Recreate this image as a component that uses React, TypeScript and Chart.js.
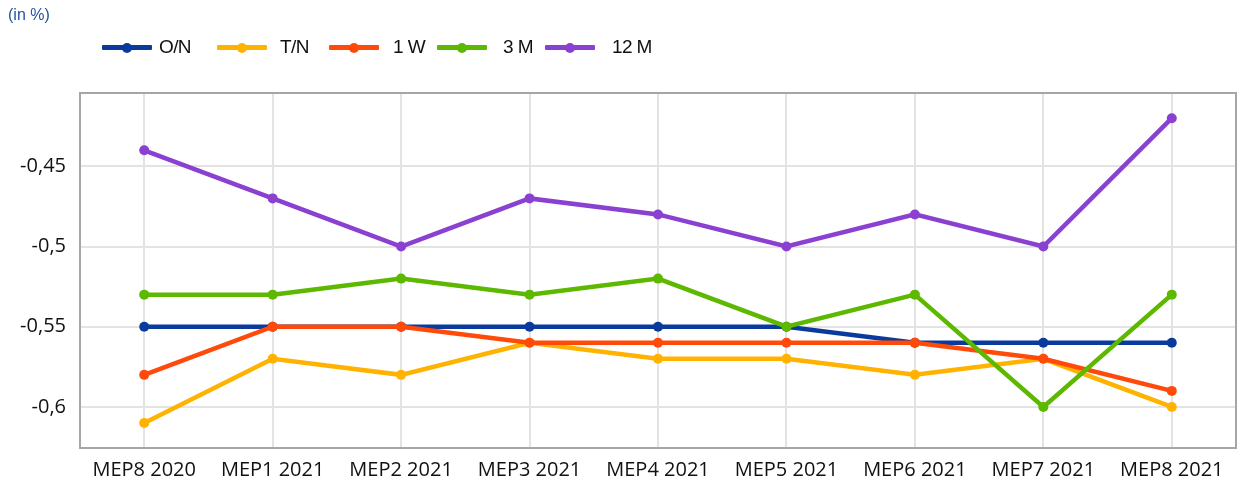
import React, { useEffect, useRef } from "react";
import { Chart, registerables } from "chart.js";

Chart.register(...registerables);

const categories = [
  "MEP8 2020", "MEP1 2021", "MEP2 2021", "MEP3 2021", "MEP4 2021",
  "MEP5 2021", "MEP6 2021", "MEP7 2021", "MEP8 2021",
];
const seriesON = [-0.55, -0.55, -0.55, -0.55, -0.55, -0.55, -0.56, -0.56, -0.56];
const seriesTN = [-0.61, -0.57, -0.58, -0.56, -0.57, -0.57, -0.58, -0.57, -0.6];
const series1W = [-0.58, -0.55, -0.55, -0.56, -0.56, -0.56, -0.56, -0.57, -0.59];
const series3M = [-0.53, -0.53, -0.52, -0.53, -0.52, -0.55, -0.53, -0.6, -0.53];
const series12M = [-0.44, -0.47, -0.5, -0.47, -0.48, -0.5, -0.48, -0.5, -0.42];
const yTicks = [-0.6, -0.55, -0.5, -0.45];
const yTickLabels = ["-0,6", "-0,55", "-0,5", "-0,45"];
const seriesNames = ["O/N", "T/N", "1 W", "3 M", "12 M"];
const seriesColors = ["#0a3a9c", "#ffb300", "#ff4a0a", "#5db800", "#8a40d0"];

const frame = {
  id: "frame",
  afterDraw(chart: any) {
    const { ctx, chartArea } = chart;
    ctx.save();
    ctx.strokeStyle = "#a6a6a6";
    ctx.lineWidth = 2;
    ctx.strokeRect(chartArea.left, chartArea.top, chartArea.right - chartArea.left, chartArea.bottom - chartArea.top);
    ctx.restore();
  },
};

export default function App() {
  const ref = useRef<HTMLCanvasElement>(null);
  useEffect(() => {
    document.body.style.margin = "0";
    const values = [seriesON, seriesTN, series1W, series3M, series12M];
    const chart = new Chart(ref.current!, {
      type: "line",
      data: {
        labels: categories,
        datasets: values.map((v, i) => ({
          label: seriesNames[i],
          data: v,
          borderColor: seriesColors[i],
          backgroundColor: seriesColors[i],
          borderWidth: 4.5,
          pointRadius: 5,
          pointHoverRadius: 5,
          pointBorderWidth: 0,
          tension: 0,
          order: 5 - i,
        })),
      },
      options: {
        animation: false,
        responsive: false,
        layout: { padding: { left: 0, right: 4, top: 93, bottom: 0 } },
        plugins: { legend: { display: false }, tooltip: { enabled: false } },
        scales: {
          x: {
            offset: true,
            grid: { offset: false, color: "#e3e3e3", lineWidth: 2, drawTicks: false },
            border: { display: false },
            ticks: { color: "#111", font: { family: "Open Sans", size: 20 }, padding: 10, maxRotation: 0 },
            afterFit(s: any) { s.height = 36; },
          },
          y: {
            min: -0.6256,
            max: -0.4043,
            afterBuildTicks(s: any) { s.ticks = yTicks.map((v) => ({ value: v })); },
            grid: { color: "#e3e3e3", lineWidth: 2, drawTicks: false },
            border: { display: false },
            ticks: {
              color: "#111",
              font: { family: "Open Sans", size: 20 },
              padding: 14,
              callback: (v: any) => {
                const idx = yTicks.findIndex((t) => Math.abs(t - v) < 1e-9);
                return idx >= 0 ? yTickLabels[idx] : "";
              },
            },
            afterFit(s: any) { s.width = 80; },
          },
        },
      },
      plugins: [frame],
    });
    return () => chart.destroy();
  }, []);

  const legendLineX = [102, 217, 329, 437, 545];
  const legendTextX = [159, 280, 393, 503, 612];
  return (
    <div style={{ position: "relative", width: 1241, height: 484, background: "#fff" }}>
      <canvas ref={ref} width={1241} height={484} style={{ position: "absolute", left: 0, top: 0 }} />
      <div style={{ position: "absolute", left: 8, top: 6, fontFamily: "Liberation Sans", fontSize: 16, color: "#2452a4" }}>
        (in %)
      </div>
      {seriesNames.map((n, i) => (
        <React.Fragment key={n}>
          <div style={{ position: "absolute", left: legendLineX[i], top: 45, width: 50, height: 5, background: seriesColors[i], borderRadius: 1 }}>
            <div style={{ position: "absolute", left: 20, top: -2.5, width: 10, height: 10, borderRadius: 5, background: seriesColors[i] }} />
          </div>
          <span style={{ position: "absolute", left: legendTextX[i], top: 36, lineHeight: "22px", fontFamily: "Liberation Sans", fontSize: 19, color: "#111", letterSpacing: -0.6, whiteSpace: "nowrap" }}>
            {n}
          </span>
        </React.Fragment>
      ))}
    </div>
  );
}
